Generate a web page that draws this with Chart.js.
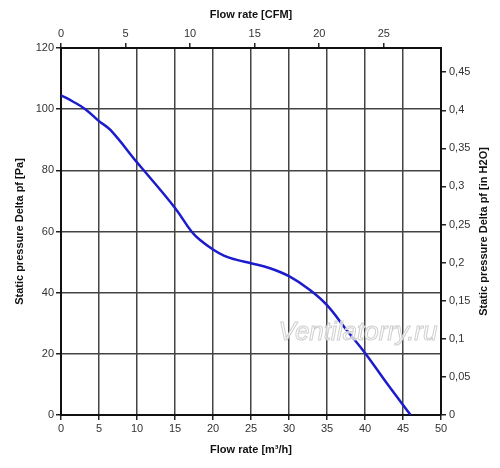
<!DOCTYPE html>
<html>
<head>
<meta charset="utf-8">
<script src="https://cdn.jsdelivr.net/npm/chart.js@4.4.0/dist/chart.umd.min.js"></script>
<style>
  body { margin: 0; background: #fff; }
  #wrap { width: 500px; height: 468px; }
</style>
</head>
<body>
<div id="wrap"><canvas id="chart" width="500" height="468"></canvas></div>
<script>
// flow rate [m3/h] and static pressure [Pa]
const flowRate = [0, 1.5, 3.2, 5, 6.5, 10, 11, 15, 17.2, 18.3, 20, 21.5, 23, 25, 27.5, 30, 32.8, 35, 37.6, 40, 42.9, 46];
const pressure = [104.5, 102.6, 100, 96.1, 93.2, 82.6, 79.7, 67.7, 59.9, 57.2, 54.1, 52.0, 50.8, 49.6, 48, 45.4, 40.8, 35.9, 27.7, 20.3, 10.3, 0];

// secondary axis tick values
const cfmTicks = [0, 5, 10, 15, 20, 25];
const inH2OTicks = [0, 0.05, 0.1, 0.15, 0.2, 0.25, 0.3, 0.35, 0.4, 0.45];

const M3H_TO_CFM = 0.588578;
const PA_TO_INH2O = 0.00401463;
const xMax = 50;
const yMax = 120;

const FONT = "'Liberation Sans', Arial, sans-serif";
const font = { family: FONT, size: 11 };
const titleFont = { family: FONT, size: 11, weight: "bold" };

const extras = {
  id: "extras",
  afterDatasetsDraw(chart) {
    const c = chart.ctx;
    const a = chart.chartArea;
    c.save();
    c.font = "italic 26px " + FONT;
    c.textAlign = "center";
    c.textBaseline = "middle";
    c.lineWidth = 1;
    c.strokeStyle = "#cfcfcf";
    c.fillStyle = "rgba(255,255,255,0.75)";
    c.fillText("Ventilatorry.ru", 358, 333);
    c.strokeText("Ventilatorry.ru", 358, 333);
    c.restore();

    // right axis title, reads bottom to top like the left one
    c.save();
    c.font = "bold 11px " + FONT;
    c.fillStyle = "#111";
    c.textAlign = "center";
    c.textBaseline = "middle";
    c.translate(484, (a.top + a.bottom) / 2);
    c.rotate(-Math.PI / 2);
    c.fillText("Static pressure Delta pf [in H2O]", 0, 0);
    c.restore();
  }
};

const ctx = document.getElementById("chart").getContext("2d");
const chart = new Chart(ctx, {
  type: "scatter",
  data: {
    datasets: [
      {
        data: flowRate.map((x, i) => ({ x: x, y: pressure[i] })),
        showLine: true,
        borderColor: "#1c1ccc",
        borderWidth: 2.5,
        pointRadius: 0,
        tension: 0.4,
        xAxisID: "x",
        yAxisID: "y"
      }
    ]
  },
  options: {
    responsive: false,
    animation: false,
    layout: { padding: 0 },
    plugins: {
      legend: { display: false },
      tooltip: { enabled: false }
    },
    scales: {
      x: {
        type: "linear",
        position: "bottom",
        min: 0,
        max: xMax,
        ticks: { stepSize: 5, autoSkip: false, color: "#333", font: font, padding: 2 },
        grid: { color: "#444", lineWidth: 1.5, tickLength: 5, tickColor: "#222" },
        border: { color: "#111", width: 2 },
        title: { display: true, text: "Flow rate [m³/h]", color: "#111", font: titleFont, padding: { top: 0, bottom: 11 } },
        afterFit(s) { s.height = 53; }
      },
      x2: {
        type: "linear",
        position: "top",
        min: 0,
        max: xMax * M3H_TO_CFM,
        afterBuildTicks(s) { s.ticks = cfmTicks.map(v => ({ value: v })); },
        ticks: { autoSkip: false, color: "#333", font: font, padding: 2 },
        grid: { drawOnChartArea: false, tickLength: 5, tickColor: "#222", lineWidth: 1.5 },
        border: { color: "#111", width: 2 },
        title: { display: true, text: "Flow rate [CFM]", color: "#111", font: titleFont, padding: { top: 8, bottom: 0 } },
        afterFit(s) { s.height = 48; }
      },
      y: {
        type: "linear",
        position: "left",
        min: 0,
        max: yMax,
        ticks: { stepSize: 20, autoSkip: false, color: "#333", font: font, padding: 2 },
        grid: { color: "#444", lineWidth: 1.5, tickLength: 5, tickColor: "#222" },
        border: { color: "#111", width: 2 },
        title: { display: true, text: "Static pressure Delta pf [Pa]", color: "#111", font: titleFont, padding: { top: 13, bottom: 0 } },
        afterFit(s) { s.width = 61; }
      },
      y2: {
        type: "linear",
        position: "right",
        min: 0,
        max: yMax * PA_TO_INH2O,
        afterBuildTicks(s) { s.ticks = inH2OTicks.map(v => ({ value: v })); },
        ticks: {
          autoSkip: false,
          color: "#333",
          font: font,
          padding: 3,
          callback: v => String(Math.round(v * 100) / 100).replace(".", ",")
        },
        grid: { drawOnChartArea: false, tickLength: 5, tickColor: "#222", lineWidth: 1.5 },
        border: { color: "#111", width: 2 },
        afterFit(s) { s.width = 59; }
      }
    }
  },
  plugins: [extras]
});
</script>
</body>
</html>
